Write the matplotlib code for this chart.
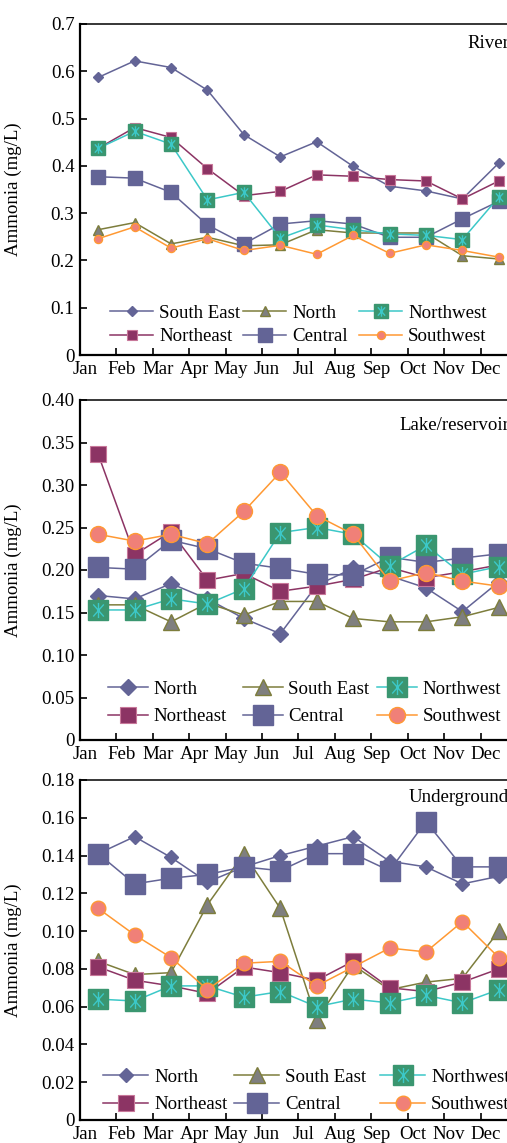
import matplotlib
matplotlib.use("Agg")
import matplotlib.pyplot as plt
from matplotlib.path import Path
from matplotlib.legend import Legend
import numpy as np

plt.rcParams['font.family'] = ['Liberation Serif', 'DejaVu Serif']

months = ['Jan', 'Feb', 'Mar', 'Apr', 'May', 'Jun', 'Jul', 'Aug', 'Sep', 'Oct', 'Nov', 'Dec']

# River
river_south_east = [0.587, 0.622, 0.608, 0.560, 0.466, 0.419, 0.451, 0.399, 0.357, 0.347, 0.330, 0.406]
river_north = [0.265, 0.280, 0.235, 0.249, 0.231, 0.233, 0.265, 0.258, 0.258, 0.258, 0.210, 0.203]
river_northwest = [0.437, 0.473, 0.446, 0.328, 0.344, 0.247, 0.275, 0.265, 0.256, 0.253, 0.244, 0.334]
river_northeast = [0.437, 0.481, 0.460, 0.394, 0.337, 0.346, 0.381, 0.378, 0.371, 0.368, 0.330, 0.368]
river_central = [0.377, 0.374, 0.344, 0.275, 0.235, 0.277, 0.284, 0.277, 0.249, 0.249, 0.288, 0.325]
river_southwest = [0.246, 0.271, 0.226, 0.246, 0.221, 0.232, 0.213, 0.253, 0.215, 0.233, 0.221, 0.207]

# Lake/reservoir
lake_north = [0.170, 0.166, 0.184, 0.166, 0.143, 0.125, 0.182, 0.202, 0.193, 0.179, 0.151, 0.186]
lake_south_east = [0.159, 0.159, 0.139, 0.161, 0.147, 0.163, 0.163, 0.143, 0.139, 0.139, 0.145, 0.156]
lake_northwest = [0.153, 0.153, 0.166, 0.160, 0.178, 0.244, 0.250, 0.242, 0.205, 0.229, 0.195, 0.204]
lake_northeast = [0.336, 0.218, 0.245, 0.188, 0.196, 0.175, 0.181, 0.189, 0.203, 0.191, 0.198, 0.206]
lake_central = [0.203, 0.201, 0.235, 0.225, 0.208, 0.202, 0.195, 0.194, 0.215, 0.209, 0.214, 0.219]
lake_southwest = [0.242, 0.234, 0.242, 0.231, 0.269, 0.315, 0.264, 0.242, 0.187, 0.197, 0.187, 0.181]

# Underground
ug_north = [0.141, 0.150, 0.139, 0.126, 0.134, 0.140, 0.145, 0.150, 0.137, 0.134, 0.125, 0.129]
ug_south_east = [0.084, 0.077, 0.078, 0.114, 0.141, 0.112, 0.053, 0.082, 0.069, 0.073, 0.075, 0.100]
ug_northwest = [0.064, 0.063, 0.071, 0.071, 0.065, 0.068, 0.060, 0.064, 0.062, 0.066, 0.062, 0.069]
ug_northeast = [0.081, 0.074, 0.071, 0.067, 0.081, 0.078, 0.074, 0.084, 0.070, 0.068, 0.073, 0.080]
ug_central = [0.141, 0.125, 0.128, 0.130, 0.134, 0.132, 0.141, 0.141, 0.132, 0.158, 0.134, 0.134]
ug_southwest = [0.112, 0.098, 0.086, 0.069, 0.083, 0.084, 0.071, 0.081, 0.091, 0.089, 0.105, 0.086]

SLATE = '#636496'
OLIVE = '#7d7d3c'
GREY = '#7f7f7f'
CYAN = '#3cc8c8'
GREEN = '#3a9670'
MAROON = '#8c3464'
PINK = '#c8789a'
ORANGE = '#ff9933'
SALMON = '#f08078'

# asterisk drawn inside the northwest squares
star = Path([(0, -1), (0, 1), (-0.7, -0.8), (0.7, 0.8), (-0.7, 0.8), (0.7, -0.8)],
            [Path.MOVETO, Path.LINETO, Path.MOVETO, Path.LINETO, Path.MOVETO, Path.LINETO])

W, H = 507, 1143
fig = plt.figure(figsize=(W / 100, H / 100), dpi=100)

FS = 13.6
LW = 1.1
AX_LEFT, AX_RIGHT = 80, 517

panels = [
    dict(top=24, bottom=355, ymax=0.7, step=0.1, fmt='{:.1f}', title='River',
         names=['South East', 'North', 'Northwest', 'Northeast', 'Central', 'Southwest'],
         data=[river_south_east, river_north, river_northwest, river_northeast, river_central, river_southwest],
         ms=dict(D=5.0, tri=6.5, nw=10, ne=6.5, c=9.5, o=5.8),
         title_y=43, leg_rows=(310, 333), leg_x=(110, 243, 359), hl=2.3),
    dict(top=400, bottom=740, ymax=0.40, step=0.05, fmt='{:.2f}', title='Lake/reservoir',
         names=['North', 'South East', 'Northwest', 'Northeast', 'Central', 'Southwest'],
         data=[lake_north, lake_south_east, lake_northwest, lake_northeast, lake_central, lake_southwest],
         ms=dict(D=8.0, tri=11, nw=14.5, ne=11, c=15, o=11.5),
         title_y=425, leg_rows=(688, 715), leg_x=(108, 243, 377), hl=2.1),
    dict(top=780, bottom=1120, ymax=0.18, step=0.02, fmt='{:.2f}', title='Underground',
         names=['North', 'South East', 'Northwest', 'Northeast', 'Central', 'Southwest'],
         data=[ug_north, ug_south_east, ug_northwest, ug_northeast, ug_central, ug_southwest],
         ms=dict(D=7.6, tri=11, nw=14.5, ne=11, c=15, o=10.5),
         title_y=798, leg_rows=(1076, 1103), leg_x=(103, 234, 380), hl=2.4),
]

x = np.arange(len(months)) + 0.5
fs_px = FS * 100 / 72

for p in panels:
    ax = fig.add_axes([AX_LEFT / W, 1 - p['bottom'] / H,
                       (AX_RIGHT - AX_LEFT) / W, (p['bottom'] - p['top']) / H])
    ms = p['ms']
    d_dia, d_tri, d_nw, d_ne, d_c, d_o = p['data']
    n_dia, n_tri, n_nw, n_ne, n_c, n_o = p['names']

    h_dia, = ax.plot(x, d_dia, color=SLATE, lw=LW, marker='D', ms=ms['D'], mfc=SLATE, mec=SLATE, zorder=3)
    h_tri, = ax.plot(x, d_tri, color=OLIVE, lw=LW, marker='^', ms=ms['tri'], mfc=GREY, mec=OLIVE, mew=1.0, zorder=3)
    h_ne, = ax.plot(x, d_ne, color=MAROON, lw=LW, marker='s', ms=ms['ne'], mfc=MAROON, mec=PINK, mew=0.8, zorder=4)
    h_c, = ax.plot(x, d_c, color=SLATE, lw=LW, marker='s', ms=ms['c'], mfc=SLATE, mec=SLATE, zorder=5)
    h_nw, = ax.plot(x, d_nw, color=CYAN, lw=LW, marker='s', ms=ms['nw'], mfc=GREEN, mec=GREEN, zorder=6)
    h_nw2, = ax.plot(x, d_nw, ls='none', marker=star, ms=ms['nw'] * 0.75, mec=CYAN, mew=1.0, zorder=6)
    h_o, = ax.plot(x, d_o, color=ORANGE, lw=LW, marker='o', ms=ms['o'], mfc=SALMON, mec=ORANGE, mew=1.0, zorder=7)

    ax.set_xlim(0, 12)
    ax.set_ylim(0, p['ymax'])
    yt = np.arange(0, p['ymax'] + p['step'] / 2, p['step'])
    ax.set_yticks(yt)
    ax.set_yticklabels(['0'] + [p['fmt'].format(v) for v in yt[1:]], fontsize=FS)
    ax.set_xticks(np.arange(12) + 0.14)
    ax.set_xticklabels(months, fontsize=FS)
    ax.set_xticks(np.arange(1, 12), minor=True)
    ax.tick_params(axis='x', which='major', length=0, pad=4)
    ax.tick_params(axis='x', which='minor', direction='in', length=5, width=1.2)
    ax.tick_params(axis='y', direction='in', length=5, width=1.2, pad=4)
    for s in ['left', 'bottom']:
        ax.spines[s].set_linewidth(1.6)
    ax.spines['top'].set_linewidth(1.1)
    ax.spines['right'].set_visible(False)
    ax.set_ylabel('Ammonia (mg/L)', fontsize=FS)
    ax.yaxis.set_label_coords(-(AX_LEFT - 22) / (AX_RIGHT - AX_LEFT), 0.5)

    axh = p['bottom'] - p['top']
    ax.text((509 - AX_LEFT) / (AX_RIGHT - AX_LEFT), (p['bottom'] - p['title_y']) / axh, p['title'],
            transform=ax.transAxes, ha='right', va='center', fontsize=FS)

    cols = [([h_dia, h_ne], [n_dia, n_ne]),
            ([h_tri, h_c], [n_tri, n_c]),
            ([(h_nw, h_nw2), h_o], [n_nw, n_o])]
    r1, r2 = p['leg_rows']
    rowgap = r2 - r1
    for (hs, ls), lx in zip(cols, p['leg_x']):
        leg = Legend(ax, hs, ls, loc='upper left', frameon=False, fontsize=FS,
                     bbox_to_anchor=((lx - AX_LEFT) / (AX_RIGHT - AX_LEFT),
                                     (p['bottom'] - (r1 - rowgap / 2 + 6)) / axh),
                     borderpad=0, borderaxespad=0, handlelength=p['hl'], handletextpad=0.3,
                     labelspacing=(rowgap - fs_px) / fs_px + 0.12, numpoints=1)
        ax.add_artist(leg)

fig.savefig('out.png', dpi=100)
